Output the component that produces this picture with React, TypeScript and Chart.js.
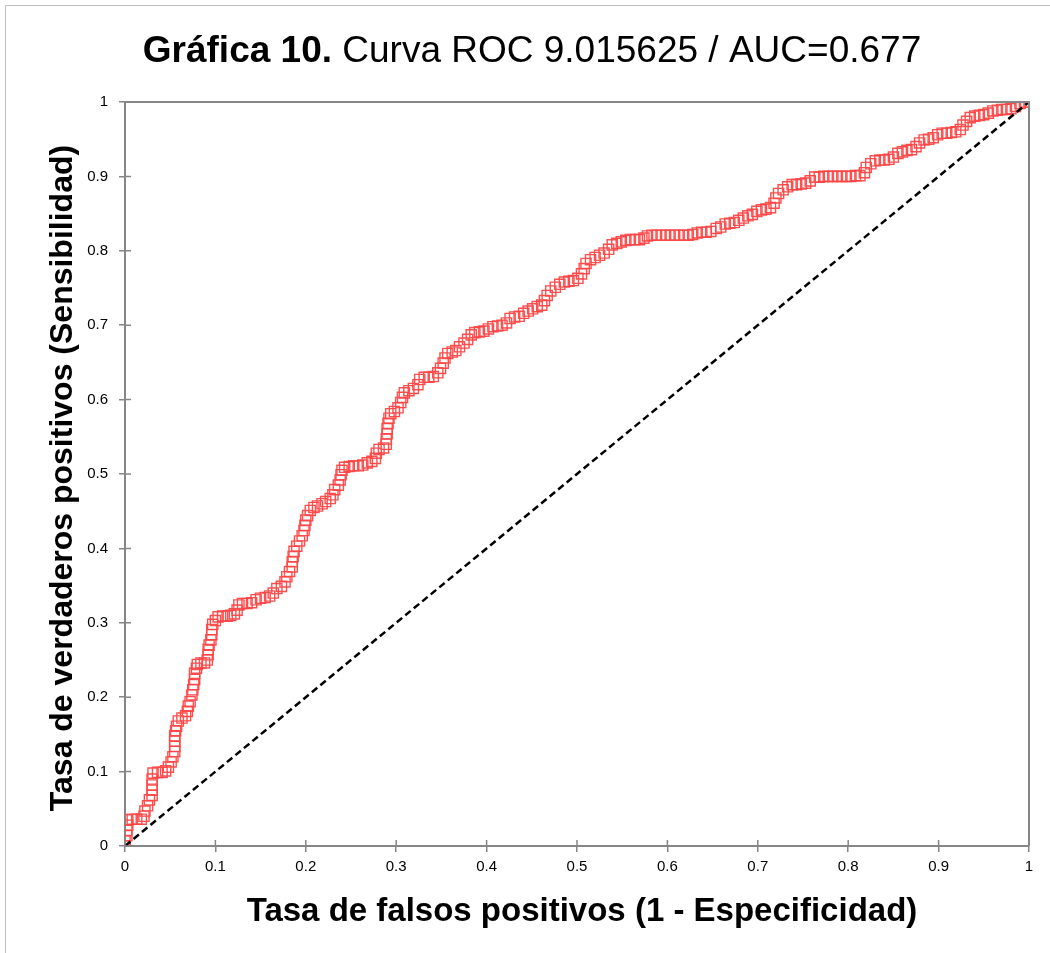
import React, { useEffect, useRef } from "react";
import { Chart, registerables } from "chart.js";

Chart.register(...registerables);

const titleBold = "Gráfica 10.";
const titleRegular = "Curva ROC 9.015625 / AUC=0.677";
const xAxisTitle = "Tasa de falsos positivos (1 - Especificidad)";
const yAxisTitle = "Tasa de verdaderos positivos (Sensibilidad)";
const tickLabels = ["0", "0.1", "0.2", "0.3", "0.4", "0.5", "0.6", "0.7", "0.8", "0.9", "1"];

// ROC curve points: [1 - specificity, sensitivity]
const rocPoints: [number, number][] = [
  [0, 0], [0, 0.007], [0.002, 0.014], [0.002, 0.021], [0.003, 0.028], [0.003, 0.035],
  [0.008, 0.036], [0.013, 0.036], [0.018, 0.036], [0.021, 0.04], [0.022, 0.047], [0.025, 0.054], [0.027, 0.062],
  [0.03, 0.068], [0.03, 0.075], [0.03, 0.082], [0.03, 0.09], [0.031, 0.098],
  [0.036, 0.099], [0.041, 0.099], [0.045, 0.101], [0.048, 0.106], [0.051, 0.113], [0.053, 0.12],
  [0.055, 0.127], [0.055, 0.134], [0.055, 0.141], [0.055, 0.148], [0.056, 0.155], [0.057, 0.161],
  [0.059, 0.168], [0.063, 0.172], [0.067, 0.175], [0.069, 0.181], [0.07, 0.188], [0.072, 0.194],
  [0.074, 0.203], [0.075, 0.21], [0.076, 0.217], [0.077, 0.224], [0.077, 0.232], [0.079, 0.239],
  [0.08, 0.244], [0.084, 0.246], [0.088, 0.246], [0.091, 0.25], [0.092, 0.257], [0.092, 0.264],
  [0.093, 0.27], [0.095, 0.277], [0.096, 0.284], [0.096, 0.291], [0.097, 0.298], [0.1, 0.303],
  [0.103, 0.308], [0.108, 0.309], [0.113, 0.309], [0.117, 0.31], [0.121, 0.312], [0.124, 0.317],
  [0.126, 0.324], [0.13, 0.326], [0.135, 0.326], [0.14, 0.327], [0.145, 0.331], [0.15, 0.333],
  [0.155, 0.334], [0.16, 0.336], [0.164, 0.34], [0.168, 0.346], [0.173, 0.349], [0.177, 0.355],
  [0.179, 0.362], [0.182, 0.369], [0.185, 0.375], [0.185, 0.382], [0.186, 0.389], [0.187, 0.396],
  [0.19, 0.403], [0.193, 0.41], [0.196, 0.417], [0.198, 0.424], [0.199, 0.431], [0.2, 0.438],
  [0.202, 0.444], [0.205, 0.451], [0.209, 0.455], [0.213, 0.457], [0.218, 0.46], [0.222, 0.463],
  [0.227, 0.467], [0.23, 0.472], [0.232, 0.479], [0.236, 0.485], [0.238, 0.492], [0.239, 0.499],
  [0.24, 0.505], [0.243, 0.509], [0.248, 0.51], [0.253, 0.511], [0.258, 0.511], [0.263, 0.512],
  [0.268, 0.515], [0.273, 0.517], [0.277, 0.521], [0.278, 0.528], [0.281, 0.533], [0.286, 0.535],
  [0.289, 0.54], [0.289, 0.547], [0.29, 0.554], [0.29, 0.561], [0.291, 0.568], [0.292, 0.575],
  [0.294, 0.581], [0.298, 0.584], [0.302, 0.589], [0.305, 0.596], [0.307, 0.603], [0.309, 0.609],
  [0.314, 0.612], [0.319, 0.615], [0.324, 0.62], [0.326, 0.627], [0.331, 0.63], [0.336, 0.63],
  [0.341, 0.631], [0.346, 0.636], [0.349, 0.642], [0.352, 0.649], [0.354, 0.656], [0.357, 0.662],
  [0.362, 0.664], [0.366, 0.666], [0.37, 0.671], [0.375, 0.676], [0.379, 0.681], [0.383, 0.687],
  [0.387, 0.69], [0.392, 0.691], [0.397, 0.692], [0.402, 0.695], [0.407, 0.698], [0.412, 0.699],
  [0.417, 0.7], [0.422, 0.703], [0.426, 0.709], [0.431, 0.711], [0.436, 0.712], [0.441, 0.716],
  [0.446, 0.719], [0.451, 0.722], [0.456, 0.725], [0.461, 0.727], [0.464, 0.733], [0.467, 0.74],
  [0.471, 0.746], [0.476, 0.751], [0.481, 0.755], [0.486, 0.758], [0.491, 0.759], [0.496, 0.76],
  [0.501, 0.763], [0.505, 0.769], [0.508, 0.776], [0.51, 0.783], [0.515, 0.788], [0.52, 0.791],
  [0.525, 0.794], [0.53, 0.797], [0.535, 0.802], [0.539, 0.808], [0.544, 0.81], [0.549, 0.812],
  [0.554, 0.814], [0.559, 0.815], [0.564, 0.815], [0.569, 0.815], [0.574, 0.817], [0.578, 0.82],
  [0.583, 0.821], [0.588, 0.821], [0.593, 0.821], [0.598, 0.821], [0.603, 0.821], [0.608, 0.821],
  [0.613, 0.821], [0.618, 0.821], [0.623, 0.821], [0.628, 0.822], [0.633, 0.824], [0.638, 0.825],
  [0.643, 0.825], [0.648, 0.826], [0.654, 0.83], [0.659, 0.832], [0.664, 0.836], [0.669, 0.837],
  [0.674, 0.838], [0.679, 0.841], [0.684, 0.844], [0.689, 0.847], [0.694, 0.849], [0.699, 0.853],
  [0.704, 0.855], [0.709, 0.856], [0.714, 0.858], [0.718, 0.864], [0.72, 0.871], [0.723, 0.877],
  [0.728, 0.882], [0.733, 0.886], [0.738, 0.889], [0.743, 0.889], [0.748, 0.89], [0.753, 0.891],
  [0.758, 0.894], [0.763, 0.899], [0.768, 0.899], [0.773, 0.9], [0.778, 0.9], [0.783, 0.9],
  [0.788, 0.9], [0.793, 0.9], [0.798, 0.9], [0.803, 0.9], [0.808, 0.901], [0.813, 0.901],
  [0.818, 0.905], [0.82, 0.912], [0.825, 0.917], [0.83, 0.921], [0.835, 0.922], [0.84, 0.922],
  [0.845, 0.923], [0.85, 0.926], [0.855, 0.931], [0.86, 0.933], [0.865, 0.935], [0.87, 0.936],
  [0.875, 0.94], [0.879, 0.945], [0.884, 0.949], [0.889, 0.95], [0.894, 0.952], [0.899, 0.956],
  [0.904, 0.958], [0.909, 0.958], [0.914, 0.959], [0.919, 0.96], [0.924, 0.963], [0.927, 0.969],
  [0.931, 0.974], [0.935, 0.979], [0.94, 0.981], [0.945, 0.982], [0.95, 0.983], [0.955, 0.985],
  [0.96, 0.988], [0.965, 0.989], [0.97, 0.99], [0.975, 0.99], [0.98, 0.991], [0.985, 0.994],
  [0.99, 0.998], [0.995, 1], [1, 1],
];

// Reference (chance) line
const diagonalPoints: [number, number][] = [[0, 0], [1, 1]];

const AXIS_GRAY = "#868686";
const FONT = '"Liberation Sans", Arial, sans-serif';

const decorPlugin = {
  id: "decor",
  beforeDraw(chart: any) {
    const { ctx, width, height } = chart;
    ctx.save();
    ctx.fillStyle = "#ffffff";
    ctx.fillRect(0, 0, width, height);
    ctx.strokeStyle = "#bfbfbf";
    ctx.lineWidth = 1;
    ctx.strokeRect(5.5, 5.5, width + 20, height + 20);
    ctx.restore();
  },
  afterDraw(chart: any) {
    const { ctx, chartArea } = chart;
    const xs = chart.scales.x;
    const ys = chart.scales.y;
    ctx.save();
    // top and right border of plot area
    ctx.strokeStyle = AXIS_GRAY;
    ctx.lineWidth = 2;
    ctx.beginPath();
    ctx.moveTo(chartArea.left, chartArea.top);
    ctx.lineTo(chartArea.right, chartArea.top);
    ctx.lineTo(chartArea.right, chartArea.bottom);
    ctx.stroke();
    // inner part of cross tick marks
    ctx.lineWidth = 1.5;
    ctx.beginPath();
    xs.ticks.forEach((t: any) => {
      const px = xs.getPixelForValue(t.value);
      ctx.moveTo(px, chartArea.bottom);
      ctx.lineTo(px, chartArea.bottom - 6);
    });
    ys.ticks.forEach((t: any) => {
      const py = ys.getPixelForValue(t.value);
      ctx.moveTo(chartArea.left, py);
      ctx.lineTo(chartArea.left + 6, py);
    });
    ctx.stroke();

    // main title (mixed bold/regular)
    ctx.fillStyle = "#000000";
    ctx.textBaseline = "alphabetic";
    ctx.textAlign = "left";
    const boldFont = `bold 37px ${FONT}`;
    const regFont = `37px ${FONT}`;
    ctx.font = boldFont;
    const wb = ctx.measureText(titleBold + " ").width;
    ctx.font = regFont;
    const wr = ctx.measureText(titleRegular).width;
    const startX = 532 - (wb + wr) / 2;
    ctx.font = boldFont;
    ctx.fillText(titleBold + " ", startX, 62);
    ctx.font = regFont;
    ctx.fillText(titleRegular, startX + wb, 62);

    // axis titles
    ctx.font = `bold 33px ${FONT}`;
    ctx.textAlign = "center";
    ctx.fillText(xAxisTitle, 582, 921);
    ctx.font = `bold 32px ${FONT}`;
    ctx.save();
    ctx.translate(72, 478);
    ctx.rotate(-Math.PI / 2);
    ctx.fillText(yAxisTitle, 0, 0);
    ctx.restore();
    ctx.restore();
  },
};

export default function App() {
  const canvasRef = useRef<HTMLCanvasElement | null>(null);

  useEffect(() => {
    if (!canvasRef.current) return;
    const chart = new Chart(canvasRef.current, {
      type: "scatter",
      data: {
        datasets: [
          {
            label: "Diagonal",
            type: "line",
            data: diagonalPoints.map(([x, y]) => ({ x, y })),
            borderColor: "#000000",
            borderWidth: 2.5,
            borderDash: [7, 4],
            pointRadius: 0,
            fill: false,
            order: 0,
          } as any,
          {
            label: "ROC",
            data: rocPoints.map(([x, y]) => ({ x, y })),
            pointStyle: "rect",
            pointRadius: 7.2,
            pointBorderWidth: 1.4,
            borderColor: "rgba(255,70,70,0.95)",
            backgroundColor: "rgba(0,0,0,0)",
            pointBackgroundColor: "rgba(0,0,0,0)",
            pointBorderColor: "rgba(255,70,70,0.95)",
            showLine: false,
            order: 1,
          },
        ],
      },
      options: {
        responsive: false,
        animation: false,
        devicePixelRatio: 1,
        layout: { padding: { left: 85, right: 21, top: 102, bottom: 67 } },
        plugins: {
          legend: { display: false },
          title: { display: false },
          tooltip: { enabled: false },
        },
        scales: {
          x: {
            type: "linear",
            min: 0,
            max: 1,
            afterFit: (s: any) => {
              s.height = 40;
            },
            ticks: {
              stepSize: 0.1,
              padding: 6,
              color: "#000000",
              font: { family: FONT, size: 15 },
              maxRotation: 0,
              callback: (_v: any, i: number) => tickLabels[i],
            },
            grid: {
              drawOnChartArea: false,
              drawTicks: true,
              tickLength: 6,
              color: AXIS_GRAY,
              lineWidth: 1.5,
            },
            border: { color: AXIS_GRAY, width: 2 },
          },
          y: {
            type: "linear",
            min: 0,
            max: 1,
            afterFit: (s: any) => {
              s.width = 40;
            },
            ticks: {
              stepSize: 0.1,
              padding: 11,
              color: "#000000",
              font: { family: FONT, size: 15 },
              callback: (_v: any, i: number) => tickLabels[i],
            },
            grid: {
              drawOnChartArea: false,
              drawTicks: true,
              tickLength: 6,
              color: AXIS_GRAY,
              lineWidth: 1.5,
            },
            border: { color: AXIS_GRAY, width: 2 },
          },
        },
      },
      plugins: [decorPlugin],
    });
    return () => chart.destroy();
  }, []);

  return (
    <div style={{ position: "absolute", left: 0, top: 0, width: 1050, height: 953, background: "#fff" }}>
      <canvas ref={canvasRef} width={1050} height={953} style={{ display: "block" }} />
    </div>
  );
}
